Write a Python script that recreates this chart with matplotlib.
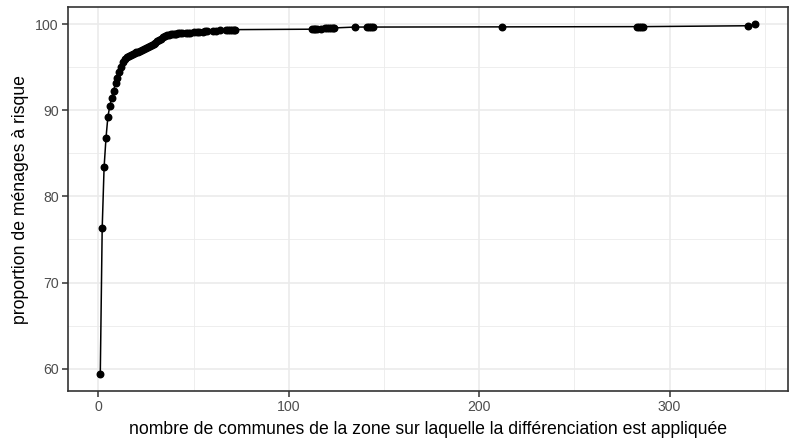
import matplotlib
matplotlib.use("Agg")
import matplotlib.pyplot as plt
from matplotlib.ticker import MultipleLocator

plt.rcParams['font.family'] = ['Liberation Sans', 'DejaVu Sans']

nb_communes = [1, 2, 3, 4, 5, 6, 7, 8, 9, 10, 11, 12, 13, 14, 15, 16, 17, 18, 19, 20,
               21, 22, 23, 24, 25, 26, 27, 28, 29, 30, 31, 32, 33, 34, 35, 36, 37, 38, 39, 40,
               41, 42, 43, 44, 46, 47, 48, 50, 52, 53, 55, 56, 57, 60, 62, 64, 67, 68, 69, 70,
               71, 72, 112, 113, 114, 115, 117, 119, 120, 121, 122, 123, 124, 135, 141, 142,
               143, 144, 212, 283, 284, 285, 286, 341, 345]
proportion = [59.4, 76.3, 83.4, 86.8, 89.3, 90.5, 91.5, 92.3, 93.2, 93.8, 94.5, 95.1, 95.6, 96.0,
              96.2, 96.35, 96.45, 96.55, 96.65, 96.75, 96.85, 96.95, 97.05, 97.2, 97.3, 97.4,
              97.5, 97.6, 97.75, 97.9, 98.05, 98.2, 98.35, 98.5, 98.65, 98.75, 98.8, 98.85,
              98.85, 98.9, 98.9, 98.95, 98.95, 99.0, 99.0, 99.05, 99.05, 99.1, 99.1, 99.15,
              99.15, 99.2, 99.2, 99.25, 99.25, 99.3, 99.3, 99.3, 99.35, 99.35, 99.4, 99.4,
              99.45, 99.45, 99.45, 99.5, 99.5, 99.55, 99.55, 99.55, 99.6, 99.6, 99.6, 99.7,
              99.7, 99.7, 99.7, 99.7, 99.72, 99.75, 99.75, 99.75, 99.75, 99.85, 100.0]

x_ticks = [0, 100, 200, 300]
y_ticks = [60, 70, 80, 90, 100]

fig = plt.figure(figsize=(7.89, 4.38), dpi=100)
ax = fig.add_axes([0.0856, 0.107, 0.9131, 0.877])

ax.plot(nb_communes, proportion, color='black', linewidth=1.1, zorder=3)
ax.plot(nb_communes, proportion, linestyle='none', marker='o', markersize=4.7,
        color='black', zorder=4)

xmin, xmax = min(nb_communes), max(nb_communes)
ymin, ymax = min(proportion), max(proportion)
dx = (xmax - xmin) * 0.05
dy = (ymax - ymin) * 0.05
ax.set_xlim(xmin - dx, xmax + dx)
ax.set_ylim(ymin - dy, ymax + dy)

ax.set_xticks(x_ticks)
ax.set_yticks(y_ticks)
ax.xaxis.set_minor_locator(MultipleLocator(50))
ax.yaxis.set_minor_locator(MultipleLocator(5))

ax.grid(True, which='major', color='#ebebeb', linewidth=1.2, zorder=0)
ax.grid(True, which='minor', color='#ebebeb', linewidth=0.6, zorder=0)
ax.set_axisbelow(True)

for s in ax.spines.values():
    s.set_color('#333333')
    s.set_linewidth(1.2)

ax.tick_params(which='major', length=4.0, width=1.1, color='#333333',
               labelcolor='#4d4d4d', labelsize=10.2, pad=2.5)
ax.tick_params(which='minor', length=0)

ax.set_xlabel("nombre de communes de la zone sur laquelle la différenciation est appliquée",
              fontsize=12.7, color='black', labelpad=5)
ax.set_ylabel("proportion de ménages à risque", fontsize=12.7, color='black', labelpad=4)

fig.savefig("out.png", dpi=100)
